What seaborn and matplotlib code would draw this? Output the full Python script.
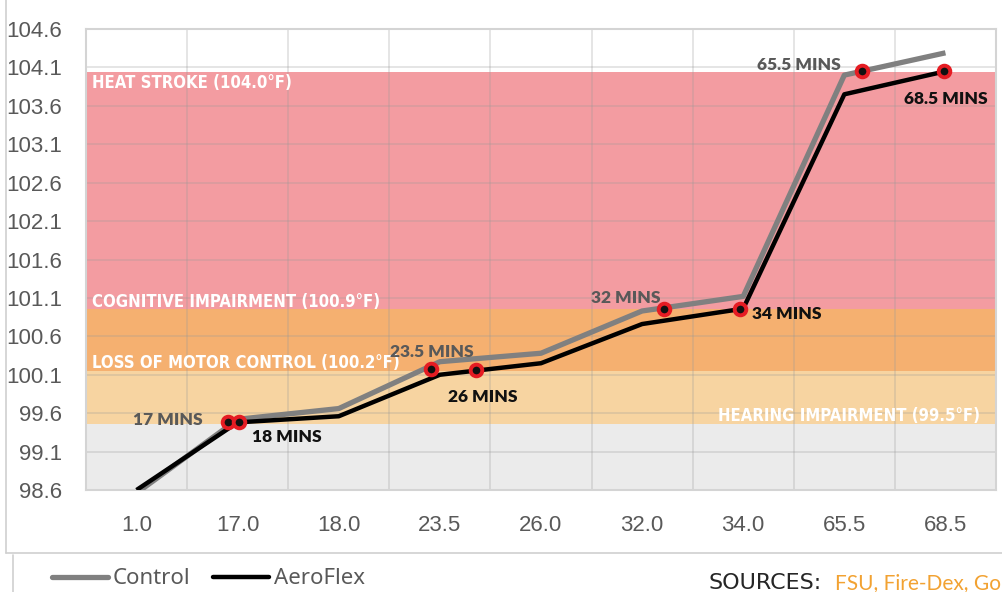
import matplotlib
matplotlib.use("Agg")
import matplotlib.pyplot as plt
import seaborn as sns
import pandas as pd
from matplotlib.lines import Line2D

# category labels on the x axis (minutes)
categories = ["1.0", "17.0", "18.0", "23.5", "26.0", "32.0", "34.0", "65.5", "68.5"]

# core temperature (°F) per category
control = [98.56, 99.52, 99.66, 100.27, 100.38, 100.93, 101.12, 104.0, 104.29]
aeroflex = [98.6, 99.48, 99.56, 100.1, 100.25, 100.76, 100.96, 103.75, 104.05]

# threshold bands
band_edges = [98.6, 99.46, 100.15, 100.95, 104.04]
band_colors = ["#ebebeb", "#f7d4a1", "#f5b070", "#f39ca1"]
band_labels = ["HEARING IMPAIRMENT (99.5°F)", "LOSS OF MOTOR CONTROL (100.2°F)",
               "COGNITIVE IMPAIRMENT (100.9°F)", "HEAT STROKE (104.0°F)"]
band_label_y = [99.5, 100.19, 100.98, 103.83]

# crossing markers: position along category axis, temperature, label, series
cross_pos = [0.9, 1.01, 2.91, 3.36, 5.22, 5.97, 7.17, 7.99]
cross_temp = [99.49, 99.49, 100.18, 100.16, 100.96, 100.96, 104.05, 104.05]
cross_text = ["17 MINS", "18 MINS", "23.5 MINS", "26 MINS", "32 MINS", "34 MINS",
              "65.5 MINS", "68.5 MINS"]
cross_series = ["Control", "AeroFlex"] * 4

df = pd.DataFrame({
    "pos": list(range(len(categories))) * 2,
    "temp": control + aeroflex,
    "series": ["Control"] * len(control) + ["AeroFlex"] * len(aeroflex),
})
marks = pd.DataFrame({"pos": cross_pos, "temp": cross_temp})

sns.set_style("white")
plt.rcParams["font.family"] = ["Liberation Sans", "DejaVu Sans"]

fig = plt.figure(figsize=(10.03, 5.92), dpi=100)
ax = fig.add_axes([86 / 1003, 1 - 490 / 592, (996 - 86) / 1003, (490 - 29) / 592])

ax.set_xlim(-0.5, len(categories) - 0.5)
ax.set_ylim(98.6, 104.6)

for i in range(4):
    ax.axhspan(band_edges[i], band_edges[i + 1], color=band_colors[i], zorder=0, lw=0)

# grid drawn over the bands, semi-transparent
for k in range(len(categories) + 1):
    ax.axvline(k - 0.5, color="#999999", alpha=0.3, lw=1.2, zorder=1)
yt = [98.6 + 0.5 * k for k in range(13)]
for v in yt:
    ax.axhline(v, color="#999999", alpha=0.3, lw=1.2, zorder=1)

sns.lineplot(data=df, x="pos", y="temp", hue="series",
             palette={"Control": "#808080", "AeroFlex": "#000000"},
             ax=ax, legend=False, zorder=3)
ax.lines[-2].set_linewidth(3.8)
ax.lines[-1].set_linewidth(3.2)
ax.lines[-2].set_solid_capstyle("butt")
ax.lines[-1].set_solid_capstyle("butt")

sns.scatterplot(data=marks, x="pos", y="temp", ax=ax, s=70, color="#111111",
                edgecolor="#e51c23", linewidth=2.8, zorder=5, legend=False)

offsets = [(-25, 2, "right"), (13, -15, "left"), (1, 17, "center"), (6, -27, "center"),
           (-39, 11, "center"), (12, -5, "left"), (-21, 6, "right"), (1, -28, "center")]
for x, y, t, s, (dx, dy, ha) in zip(cross_pos, cross_temp, cross_text, cross_series, offsets):
    ax.annotate(t, (x, y), xytext=(dx, dy), textcoords="offset pixels", ha=ha, va="center",
                fontsize=12.5, fontweight="heavy", family=["Lato", "DejaVu Sans"],
                color="#595959" if s == "Control" else "#111111", zorder=6)

# band captions
cap = dict(color="white", fontsize=12, fontweight="bold", fontstretch="condensed",
           family=["DejaVu Sans"], zorder=4, va="baseline",
           transform=ax.get_yaxis_transform())
x0 = (92 - 86) / (996 - 86)
x1 = (980 - 86) / (996 - 86)
ax.text(x0, band_label_y[3], band_labels[3], ha="left", **cap)
ax.text(x0, band_label_y[2], band_labels[2], ha="left", **cap)
ax.text(x0, band_label_y[1], band_labels[1], ha="left", **cap)
ax.text(x1, band_label_y[0], band_labels[0], ha="right", **cap)

ax.set_xticks(range(len(categories)))
ax.set_xticklabels(categories)
ax.set_yticks(yt)
ax.set_yticklabels([f"{v:.1f}" for v in yt])
ax.tick_params(axis="both", length=0, labelsize=16, labelcolor="#595959")
ax.tick_params(axis="x", pad=18)
ax.tick_params(axis="y", pad=17)
ax.set_xlabel("")
ax.set_ylabel("")
for sp in ax.spines.values():
    sp.set_color("#d4d4d4")
    sp.set_linewidth(1.5)

# outer frame lines
fig.add_artist(Line2D([6 / 1003, 6 / 1003], [1, 1 - 553 / 592], color="#d0d0d0", lw=1.2))
fig.add_artist(Line2D([6 / 1003, 1], [1 - 553 / 592, 1 - 553 / 592], color="#d0d0d0", lw=1.2))
fig.add_artist(Line2D([13 / 1003, 13 / 1003], [1 - 555 / 592, 0], color="#d0d0d0", lw=1.2))

handles = [Line2D([], [], color="#808080", lw=3.8), Line2D([], [], color="#000000", lw=3.2)]
leg = fig.legend(handles, ["Control", "AeroFlex"], loc="center left",
                 bbox_to_anchor=(32 / 1003, 1 - 579 / 592), ncol=2, frameon=False,
                 handlelength=2.5, handletextpad=0.25, columnspacing=1.0,
                 prop={"family": ["Noto Sans", "DejaVu Sans"], "size": 16})
for t in leg.get_texts():
    t.set_color("#595959")

fig.text(708 / 1003, 1 - 583 / 592, "SOURCES:", fontsize=16, color="#262626",
         va="center", ha="left", family=["DejaVu Sans"])
fig.text(835 / 1003, 1 - 583 / 592, "FSU, Fire-Dex, Gore", fontsize=15, color="#f2a232",
         va="center", ha="left", family=["Lato", "DejaVu Sans"])

fig.savefig("out.png", dpi=100)
